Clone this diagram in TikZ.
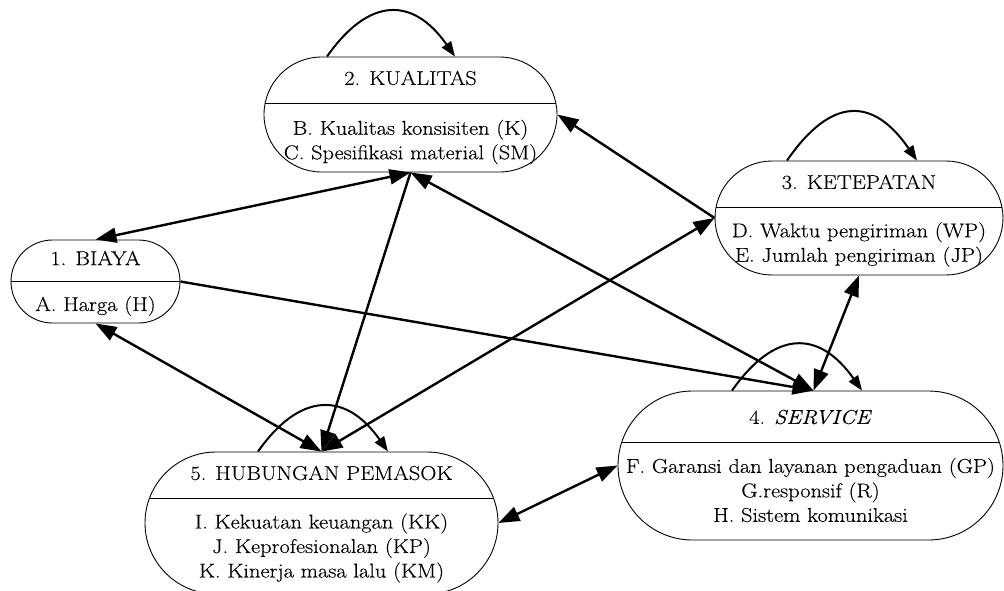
\documentclass[tikz,border=0pt]{standalone}
\usepackage{fontspec}
\setmainfont{Latin Modern Roman}[FakeStretch=1.12,FakeBold=0.3]
\usetikzlibrary{arrows.meta}
\begin{document}
\begin{tikzpicture}[x=1pt,y=-1pt,
  box/.style={draw,line width=0.9pt,inner sep=0pt},
  div/.style={line width=0.9pt},
  txt/.style={inner sep=0pt,align=center,font=\fontsize{20}{24.5}\selectfont},
  edge/.style={line width=2.4pt},
  tip/.tip={Triangle[length=21pt,width=15pt]},
  ltip/.tip={Triangle[length=15pt,width=11pt]},
  selfloop/.style={line width=2pt,-ltip}]
\useasboundingbox (0,0) rectangle (1004,590);
% boxes
\node[box,minimum width=169pt,minimum height=83pt,rounded corners=41.49pt] (n1) at (95.5,281.5) {};
\node[box,minimum width=293pt,minimum height=115pt,rounded corners=57.49pt] (n2) at (410.5,114.5) {};
\node[box,minimum width=288pt,minimum height=114pt,rounded corners=56.99pt] (n3) at (859,218) {};
\node[box,minimum width=385pt,minimum height=149pt,rounded corners=74.49pt] (n4) at (810.5,465.5) {};
\node[box,minimum width=353pt,minimum height=142pt,rounded corners=70.99pt] (n5) at (321.5,523) {};
% dividers
\draw[div] (n1.west) -- (n1.east);
\draw[div] (265.2,103) -- (555.8,103);
\draw[div] (716.1,207) -- (1001.9,207);
\draw[div] (621.8,442) -- (999.2,442);
\draw[div] (149.5,498) -- (493.5,498);
% texts
\node[txt] (t1) at (95.5,258) {1. BIAYA};
\node[txt] (b1) at (95.5,306) {A. Harga (H)};
\node[txt] (t2) at (410.5,78) {2. KUALITAS};
\node[txt] (b2) at (410.5,142) {B. Kualitas konsisiten (K)\\C. Spesifikasi material (SM)};
\node[txt] (t3) at (859,182) {3. KETEPATAN};
\node[txt] (b3) at (859,244.5) {D. Waktu pengiriman (WP)\\E. Jumlah pengiriman (JP)};
\node[txt] (t4) at (810.5,417) {4. \textit{SERVICE}};
\node[txt] (b4) at (810.5,490) {F. Garansi dan layanan pengaduan (GP)\\G.responsif (R)\\H. Sistem komunikasi};
\node[txt] (t5) at (321.5,473) {5. HUBUNGAN PEMASOK};
\node[txt] (b5) at (321.5,548) {I. Kekuatan keuangan (KK)\\J. Keprofesionalan (KP)\\K. Kinerja masa lalu (KM)};
% anchor points
\coordinate (n4t) at ([xshift=3pt]n4.north);
% edges
\draw[edge,tip-tip] (n1.north) -- (n2.south);
\draw[edge,-tip] (n1.east) -- (n4t);
\draw[edge,tip-tip] (n1.south) -- (n5.north);
\draw[edge,-tip] (n2.south) -- (n5.north);
\draw[edge,tip-tip] (n2.south) -- (n4t);
\draw[edge,-tip] (n3.west) -- (n2.east);
\draw[edge,tip-tip] (n5.north) -- (n3.west);
\draw[edge,tip-tip] (n3.south) -- (n4t);
\draw[edge,tip-tip] (n5.east) -- (n4.west);
% self loops
\draw[selfloop] ([xshift=-83.5pt]n2.north) .. controls +(42,-60) and +(-42,-60) .. ([xshift=44.5pt]n2.north);
\draw[selfloop] ([xshift=-72pt]n3.north) .. controls +(44,-64) and +(-44,-64) .. ([xshift=58pt]n3.north);
\draw[selfloop] ([xshift=-78.5pt]n4.north) .. controls +(43,-61) and +(-43,-61) .. ([xshift=51.5pt]n4.north);
\draw[selfloop] ([xshift=-63.5pt]n5.north) .. controls +(42,-60) and +(-42,-60) .. ([xshift=66.5pt]n5.north);
\end{tikzpicture}
\end{document}
